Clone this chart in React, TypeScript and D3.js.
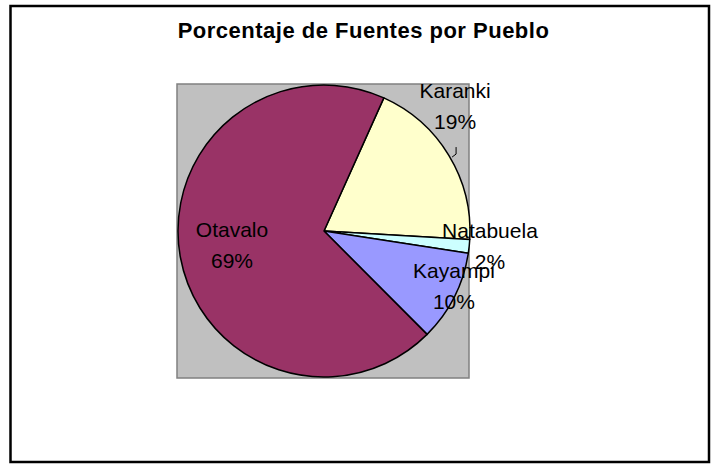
import { useEffect, useRef } from "react";
import * as d3 from "d3";

const pueblos = ["Karanki", "Natabuela", "Kayampi", "Otavalo"];
const porcentajes = [19.2, 1.5, 10.1, 69.2];
const colores = ["#FFFFCC", "#CCFFFF", "#9999FF", "#993366"];
const titulo = "Porcentaje de Fuentes por Pueblo";

// label anchors (first baseline) in polar coords around the pie centre: [angle deg, radius]
const labelPolar: [number, number][] = [
  [44.6, 186.7],
  [92.4, 166.1],
  [109.9, 138.2],
  [266.3, 92.2],
];

export default function App() {
  const svgRef = useRef<SVGSVGElement>(null);

  useEffect(() => {
    if (!svgRef.current) return;
    const width = 716;
    const height = 464;
    const svg = d3.select(svgRef.current);
    svg.attr("width", width).attr("height", height).attr("viewBox", `0 0 ${width} ${height}`);
    svg.selectAll("*").remove();

    const font = "'Liberation Sans', Arial, sans-serif";

    svg.append("rect").attr("width", width).attr("height", height).attr("fill", "#ffffff");

    // chart area border
    svg
      .append("rect")
      .attr("x", 10.5)
      .attr("y", 6)
      .attr("width", 698.5)
      .attr("height", 456)
      .attr("fill", "#ffffff")
      .attr("stroke", "#000000")
      .attr("stroke-width", 2.5);

    // title
    svg
      .append("text")
      .attr("x", 363.5)
      .attr("y", 38)
      .attr("text-anchor", "middle")
      .attr("font-family", font)
      .attr("font-size", 22)
      .attr("font-weight", "bold")
      .attr("letter-spacing", 0.5)
      .attr("fill", "#000000")
      .text(titulo);

    // plot area
    const plot = { x: 177, y: 84, w: 292, h: 294 };
    svg
      .append("rect")
      .attr("x", plot.x)
      .attr("y", plot.y)
      .attr("width", plot.w)
      .attr("height", plot.h)
      .attr("fill", "#C0C0C0")
      .attr("stroke", "#808080")
      .attr("stroke-width", 1.5);

    const cx = 324;
    const cy = 231;
    const radius = 146;
    const start = (24.2 * Math.PI) / 180;

    const pie = d3
      .pie<number>()
      .sort(null)
      .value((d) => d)
      .startAngle(start)
      .endAngle(start + 2 * Math.PI);
    const arcs = pie(porcentajes);
    const arc = d3.arc<d3.PieArcDatum<number>>().innerRadius(0).outerRadius(radius);

    const g = svg.append("g").attr("transform", `translate(${cx},${cy})`);

    g.selectAll("path.slice")
      .data(arcs)
      .enter()
      .append("path")
      .attr("class", "slice")
      .attr("d", arc)
      .attr("fill", (_, i) => colores[i])
      .attr("stroke", "#000000")
      .attr("stroke-width", 1.5)
      .attr("stroke-linejoin", "round");

    const total = d3.sum(porcentajes);

    // Karanki leader line
    const kAng = (labelPolar[0][0] * Math.PI) / 180;
    const kx = Math.sin(kAng) * labelPolar[0][1];
    const ky = -Math.cos(kAng) * labelPolar[0][1];
    g.append("path")
      .attr("d", `M${kx + 1},${ky + 49} L${kx + 1},${ky + 56} L${kx - 3},${ky + 59}`)
      .attr("fill", "none")
      .attr("stroke", "#000000")
      .attr("stroke-width", 1);

    const labels = g
      .selectAll("text.lbl")
      .data(arcs)
      .enter()
      .append("text")
      .attr("class", "lbl")
      .attr("font-family", font)
      .attr("font-size", 21)
      .attr("fill", "#000000")
      .attr("text-anchor", "middle")
      .attr("transform", (_, i) => {
        const a = (labelPolar[i][0] * Math.PI) / 180;
        const r = labelPolar[i][1];
        return `translate(${Math.sin(a) * r},${-Math.cos(a) * r})`;
      });
    labels
      .append("tspan")
      .attr("x", 0)
      .attr("y", 0)
      .text((_, i) => pueblos[i]);
    labels
      .append("tspan")
      .attr("x", 0)
      .attr("y", 31)
      .text((d) => `${Math.round((d.value / total) * 100)}%`);
  }, []);

  return (
    <svg
      ref={svgRef}
      style={{ position: "absolute", left: 0, top: 0, display: "block" }}
    />
  );
}
